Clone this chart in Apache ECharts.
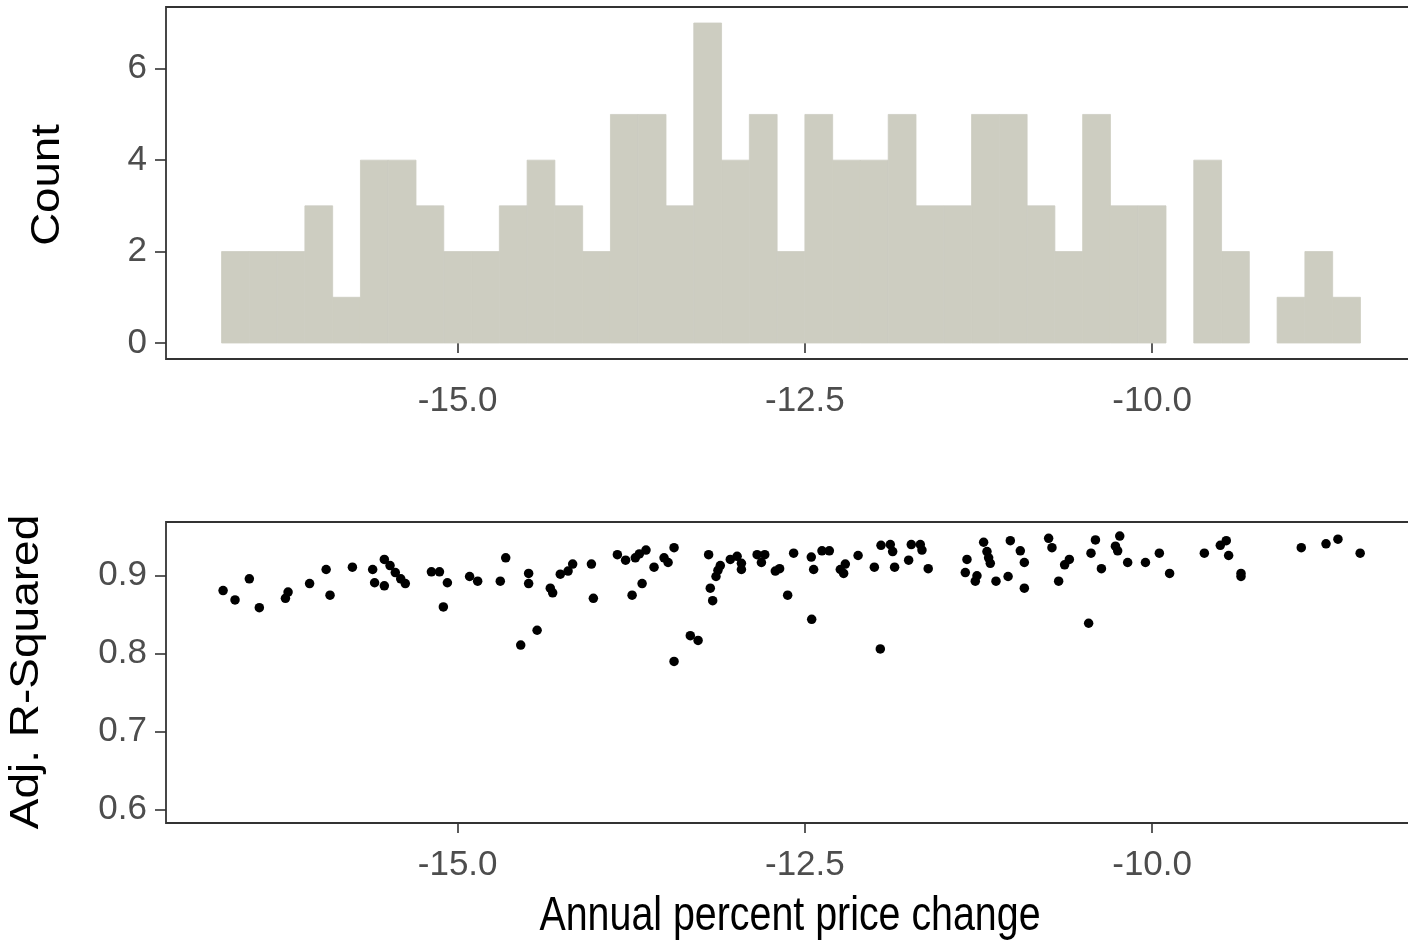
<!DOCTYPE html>
<html>
<head>
<meta charset="utf-8">
<script src="https://cdn.jsdelivr.net/npm/echarts@6/dist/echarts.min.js"></script>
<style>
html,body{margin:0;padding:0;background:#fff;}
#chart{width:1408px;height:944px;}
</style>
</head>
<body>
<div id="chart"></div>
<script>
// Histogram: left edge of each bin (width 0.2) and counts
const binLefts = [-16.7,-16.5,-16.3,-16.1,-15.9,-15.7,-15.5,-15.3,-15.1,-14.9,-14.7,-14.5,-14.3,-14.1,-13.9,-13.7,-13.5,-13.3,-13.1,-12.9,-12.7,-12.5,-12.3,-12.1,-11.9,-11.7,-11.5,-11.3,-11.1,-10.9,-10.7,-10.5,-10.3,-10.1,-9.9,-9.7,-9.5,-9.3,-9.1,-8.9,-8.7];
const binWidth = 0.2;
const binCounts = [2,2,2,3,1,4,4,3,2,2,3,4,3,2,5,5,3,7,4,5,2,5,4,4,5,3,3,5,5,3,2,5,3,3,0,4,2,0,1,2,1];

// Scatter: annual percent price change vs adjusted R-squared
const priceChange = [-16.689,-16.603,-16.500,-16.428,-16.240,-16.221,-16.066,-15.947,-15.919,-15.758,-15.612,-15.598,-15.528,-15.528,-15.487,-15.449,-15.410,-15.377,-15.189,-15.131,
-15.074,-15.103,-14.914,-14.856,-14.693,-14.654,-14.489,-14.489,-14.546,-14.428,-14.333,-14.316,-14.261,-14.205,-14.172,-14.037,-14.023,-13.850,-13.791,-13.721,-13.692,-13.644,-13.744,-13.672,-13.586,-13.514,-13.485,-13.442,-13.442,
-13.325,-13.269,-13.193,-13.181,-13.164,-13.140,-13.126,-13.109,-13.037,-12.988,-12.957,-12.957,-12.844,-12.789,-12.813,-12.713,-12.682,-12.624,-12.581,-12.451,-12.454,-12.437,-12.377,-12.324,-12.245,-12.209,-12.221,-12.117,-12.000,-11.957,-11.952,-11.885,-11.868,-11.854,-11.753,-11.734,-11.669,-11.657,
-11.612,-11.333,-11.345,-11.261,-11.273,-11.213,-11.189,-11.177,-11.165,-11.124,-11.037,-11.021,-10.949,-10.920,-10.920,-10.745,-10.721,-10.673,-10.630,-10.596,-10.457,-10.440,-10.408,-10.365,-10.264,-10.248,-10.233,-10.176,-10.048,-9.948,
-9.874,-9.624,-9.509,-9.466,-9.449,-9.360,-9.360,-8.926,-8.748,-8.662,-8.502];
const adjR2 = [0.881,0.869,0.896,0.859,0.871,0.879,0.890,0.908,0.875,0.911,0.908,0.891,0.887,0.921,0.913,0.904,0.896,0.890,0.905,0.905,
0.891,0.860,0.899,0.893,0.893,0.923,0.903,0.890,0.811,0.830,0.884,0.878,0.902,0.906,0.915,0.915,0.871,0.927,0.920,0.923,0.928,0.933,0.875,0.890,0.911,0.923,0.917,0.936,0.790,
0.823,0.817,0.927,0.884,0.868,0.899,0.907,0.913,0.921,0.925,0.916,0.908,0.927,0.927,0.917,0.906,0.909,0.875,0.929,0.844,0.924,0.908,0.932,0.932,0.908,0.915,0.903,0.926,0.911,0.806,0.939,0.940,0.931,0.911,0.920,0.940,0.940,0.933,
0.909,0.921,0.904,0.900,0.893,0.943,0.931,0.923,0.916,0.893,0.899,0.945,0.932,0.917,0.884,0.948,0.936,0.893,0.914,0.921,0.839,0.929,0.946,0.909,0.938,0.932,0.951,0.917,0.917,0.929,
0.903,0.929,0.939,0.945,0.926,0.903,0.899,0.936,0.941,0.947,0.929];

// Tick values
const xTicks = [-15.0, -12.5, -10.0];
const countTicks = [0, 2, 4, 6];
const r2Ticks = [0.6, 0.7, 0.8, 0.9];

const histData = binLefts.map((l, i) => [l, l + binWidth, binCounts[i]]);
const scatterData = priceChange.map((x, i) => [x, adjR2[i]]);

const tickFont = "'Liberation Sans',Arial,sans-serif";
const titleFont = "'Liberation Sans',Arial,sans-serif";
const axisCol = '#333333';
const labelCol = '#4D4D4D';
const histFill = '#CDCDC1';

function xAxisCfg(gi) {
  return {
    type: 'value', gridIndex: gi, min: -17.1, max: -8.1,
    splitLine: {show: false},
    axisLine: {show: false},
    axisTick: {show: true, customValues: xTicks, length: 10, lineStyle: {color: axisCol, width: 1.6}},
    axisLabel: {show: true, customValues: xTicks, margin: 25, color: labelCol, fontSize: 35, fontFamily: tickFont,
      formatter: v => v.toFixed(1)}
  };
}
function yAxisCfg(gi, min, max, ticks, dec) {
  return {
    type: 'value', gridIndex: gi, min: min, max: max,
    splitLine: {show: false},
    axisLine: {show: false},
    axisTick: {show: true, customValues: ticks, length: 11, lineStyle: {color: axisCol, width: 1.6}},
    axisLabel: {show: true, customValues: ticks, margin: 19, color: labelCol, fontSize: 35, fontFamily: tickFont,
      formatter: v => v.toFixed(dec)}
  };
}

const chart = echarts.init(document.getElementById('chart'), null, {renderer: 'canvas'});
chart.setOption({
  animation: false,
  backgroundColor: '#ffffff',
  grid: [
    {left: 166, top: 7, width: 1250, height: 352, outerBoundsMode: 'none', containLabel: false, show: true, borderColor: axisCol, borderWidth: 1.8, backgroundColor: 'transparent'},
    {left: 166, top: 522, width: 1250, height: 301, outerBoundsMode: 'none', containLabel: false, show: true, borderColor: axisCol, borderWidth: 1.8, backgroundColor: 'transparent'}
  ],
  xAxis: [xAxisCfg(0), xAxisCfg(1)],
  yAxis: [
    yAxisCfg(0, -0.35, 7.35, countTicks, 0),
    yAxisCfg(1, 0.5825, 0.969, r2Ticks, 1)
  ],
  series: [
    {
      type: 'custom', xAxisIndex: 0, yAxisIndex: 0,
      encode: {x: [0, 1], y: 2},
      data: histData,
      renderItem: function (params, api) {
        const c = api.value(2);
        if (!c) return null;
        const p0 = api.coord([api.value(0), 0]);
        const p1 = api.coord([api.value(1), c]);
        return {
          type: 'rect',
          shape: {x: p0[0], y: p1[1], width: p1[0] - p0[0], height: p0[1] - p1[1]},
          style: {fill: histFill, stroke: histFill, lineWidth: 0.8}
        };
      }
    },
    {
      type: 'scatter', xAxisIndex: 1, yAxisIndex: 1,
      data: scatterData,
      symbol: 'circle', symbolSize: 9.5,
      itemStyle: {color: '#000000', opacity: 1},
      silent: true
    }
  ],
  graphic: [
    {type: 'text', x: 48, y: 185, rotation: Math.PI / 2, scaleX: 1.14,
      style: {text: 'Count', font: '40px ' + titleFont, fill: '#000', textAlign: 'center', textVerticalAlign: 'middle', align: 'center', verticalAlign: 'middle'}},
    {type: 'text', x: 27, y: 672, rotation: Math.PI / 2, scaleX: 1.15,
      style: {text: 'Adj. R-Squared', font: '40px ' + titleFont, fill: '#000', textAlign: 'center', textVerticalAlign: 'middle', align: 'center', verticalAlign: 'middle'}},
    {type: 'text', x: 790, y: 917, scaleX: 0.82,
      style: {text: 'Annual percent price change', font: '48px ' + titleFont, fill: '#000', textAlign: 'center', textVerticalAlign: 'middle', align: 'center', verticalAlign: 'middle'}}
  ]
});
</script>
</body>
</html>
